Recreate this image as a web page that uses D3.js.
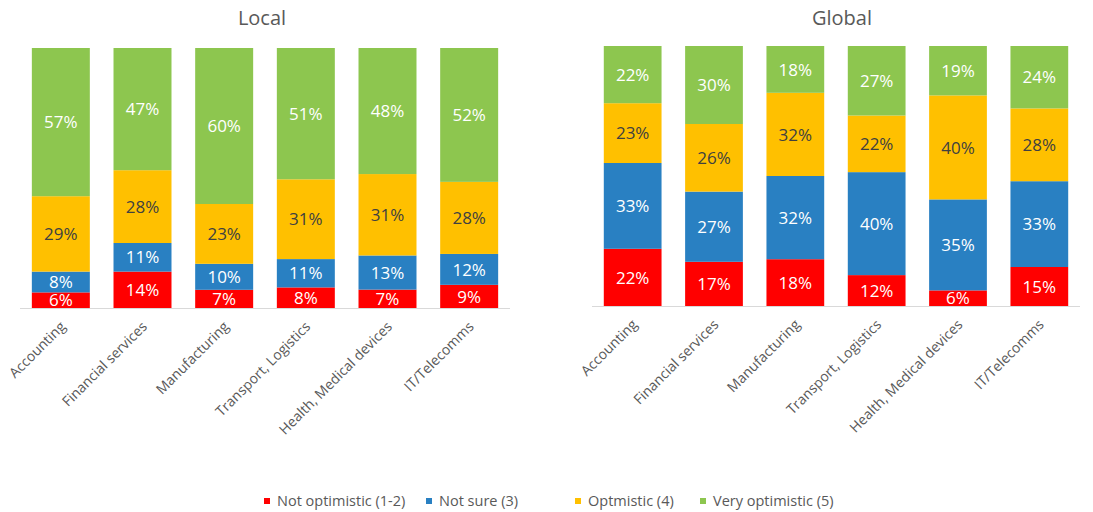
<!DOCTYPE html>
<html>
<head>
<meta charset="utf-8">
<script src="https://cdn.jsdelivr.net/npm/d3@7"></script>
<style>
  html, body { margin: 0; padding: 0; background: #ffffff; }
  svg { display: block; font-family: "Open Sans", "Liberation Sans", sans-serif; }
</style>
</head>
<body>
<svg id="chart" width="1093" height="512"></svg>
<script>
// Industries shown on both panels
const categories = ["Accounting", "Financial services", "Manufacturing", "Transport, Logistics", "Health, Medical devices", "IT/Telecomms"];

// Response groups (stack order, bottom to top)
const seriesNames = ["Not optimistic (1-2)", "Not sure (3)", "Optmistic (4)", "Very optimistic (5)"];

// Local outlook, % of respondents
const localNotOptimistic   = [6, 14, 7, 8, 7, 9];
const localNotSure         = [8, 11, 10, 11, 13, 12];
const localOptimistic      = [29, 28, 23, 31, 31, 28];
const localVeryOptimistic  = [57, 47, 60, 51, 48, 52];

// Global outlook, % of respondents
const globalNotOptimistic  = [22, 17, 18, 12, 6, 15];
const globalNotSure        = [33, 27, 32, 40, 35, 33];
const globalOptimistic     = [23, 26, 32, 22, 40, 28];
const globalVeryOptimistic = [22, 30, 18, 27, 19, 24];

const colors = ["#ff0000", "#2980c2", "#ffc000", "#8dc64f"];
const labelColors = ["#ffffff", "#ffffff", "#404040", "#ffffff"];

const svg = d3.select("#chart");

function buildRows(cols) {
  return categories.map((c, i) => {
    const row = { category: c };
    seriesNames.forEach((s, k) => { row[s] = cols[k][i]; });
    return row;
  });
}

function drawPanel(title, cols, x0, x1, yBottom, yTop, titleX) {
  const rows = buildRows(cols);
  const stacked = d3.stack().keys(seriesNames).offset(d3.stackOffsetExpand)(rows);

  const x = d3.scaleBand().domain(categories).range([x0, x1])
    .paddingInner(0.29).paddingOuter(0.145);
  const y = d3.scaleLinear().domain([0, 1]).range([yBottom, yTop]);

  const g = svg.append("g");

  g.append("text")
    .attr("x", titleX).attr("y", 25)
    .attr("text-anchor", "middle")
    .attr("fill", "#595959")
    .attr("font-size", 20)
    .text(title);

  const layers = g.selectAll("g.layer").data(stacked).join("g")
    .attr("class", "layer")
    .attr("fill", (d, k) => colors[k]);

  layers.selectAll("rect").data(d => d).join("rect")
    .attr("x", d => x(d.data.category))
    .attr("width", x.bandwidth())
    .attr("y", d => y(d[1]))
    .attr("height", d => y(d[0]) - y(d[1]));

  // value labels centred in each segment
  stacked.forEach((layer, k) => {
    g.append("g").selectAll("text").data(layer).join("text")
      .attr("x", d => x(d.data.category) + x.bandwidth() / 2)
      .attr("y", d => (y(d[0]) + y(d[1])) / 2)
      .attr("dy", "0.36em")
      .attr("text-anchor", "middle")
      .attr("font-size", 17)
      .attr("fill", labelColors[k])
      .text(d => d.data[layer.key] + "%");
  });

  // category axis
  const axis = d3.axisBottom(x).tickSize(0).tickPadding(0);
  const ax = g.append("g")
    .attr("transform", `translate(0,${yBottom})`)
    .call(axis);
  ax.select(".domain").attr("stroke", "#d9d9d9").attr("stroke-width", 1.2)
    .attr("d", `M${x0},0.5H${x1}`);
  ax.selectAll(".tick text")
    .attr("font-family", "\"Open Sans\", sans-serif")
    .attr("font-size", 14)
    .attr("fill", "#595959")
    .attr("text-anchor", "end")
    .attr("transform", "translate(2,16) rotate(-45)")
    .attr("dy", "0.35em")
    .attr("y", 0)
    .attr("x", 0);
}

drawPanel("Local",
  [localNotOptimistic, localNotSure, localOptimistic, localVeryOptimistic],
  20, 510, 308, 48, 262);

drawPanel("Global",
  [globalNotOptimistic, globalNotSure, globalOptimistic, globalVeryOptimistic],
  592, 1080, 306, 46, 842);

// legend along the bottom
const legendX = [267, 429, 578, 703];
const legend = svg.append("g").attr("transform", "translate(0,501)");
const items = legend.selectAll("g").data(seriesNames).join("g")
  .attr("transform", (d, k) => `translate(${legendX[k]},0)`);
items.append("rect")
  .attr("x", -3).attr("y", -3).attr("width", 6).attr("height", 6)
  .attr("fill", (d, k) => colors[k]);
items.append("text")
  .attr("x", 10).attr("dy", "0.36em")
  .attr("font-size", 14.5)
  .attr("fill", "#595959")
  .text(d => d);
</script>
</body>
</html>
